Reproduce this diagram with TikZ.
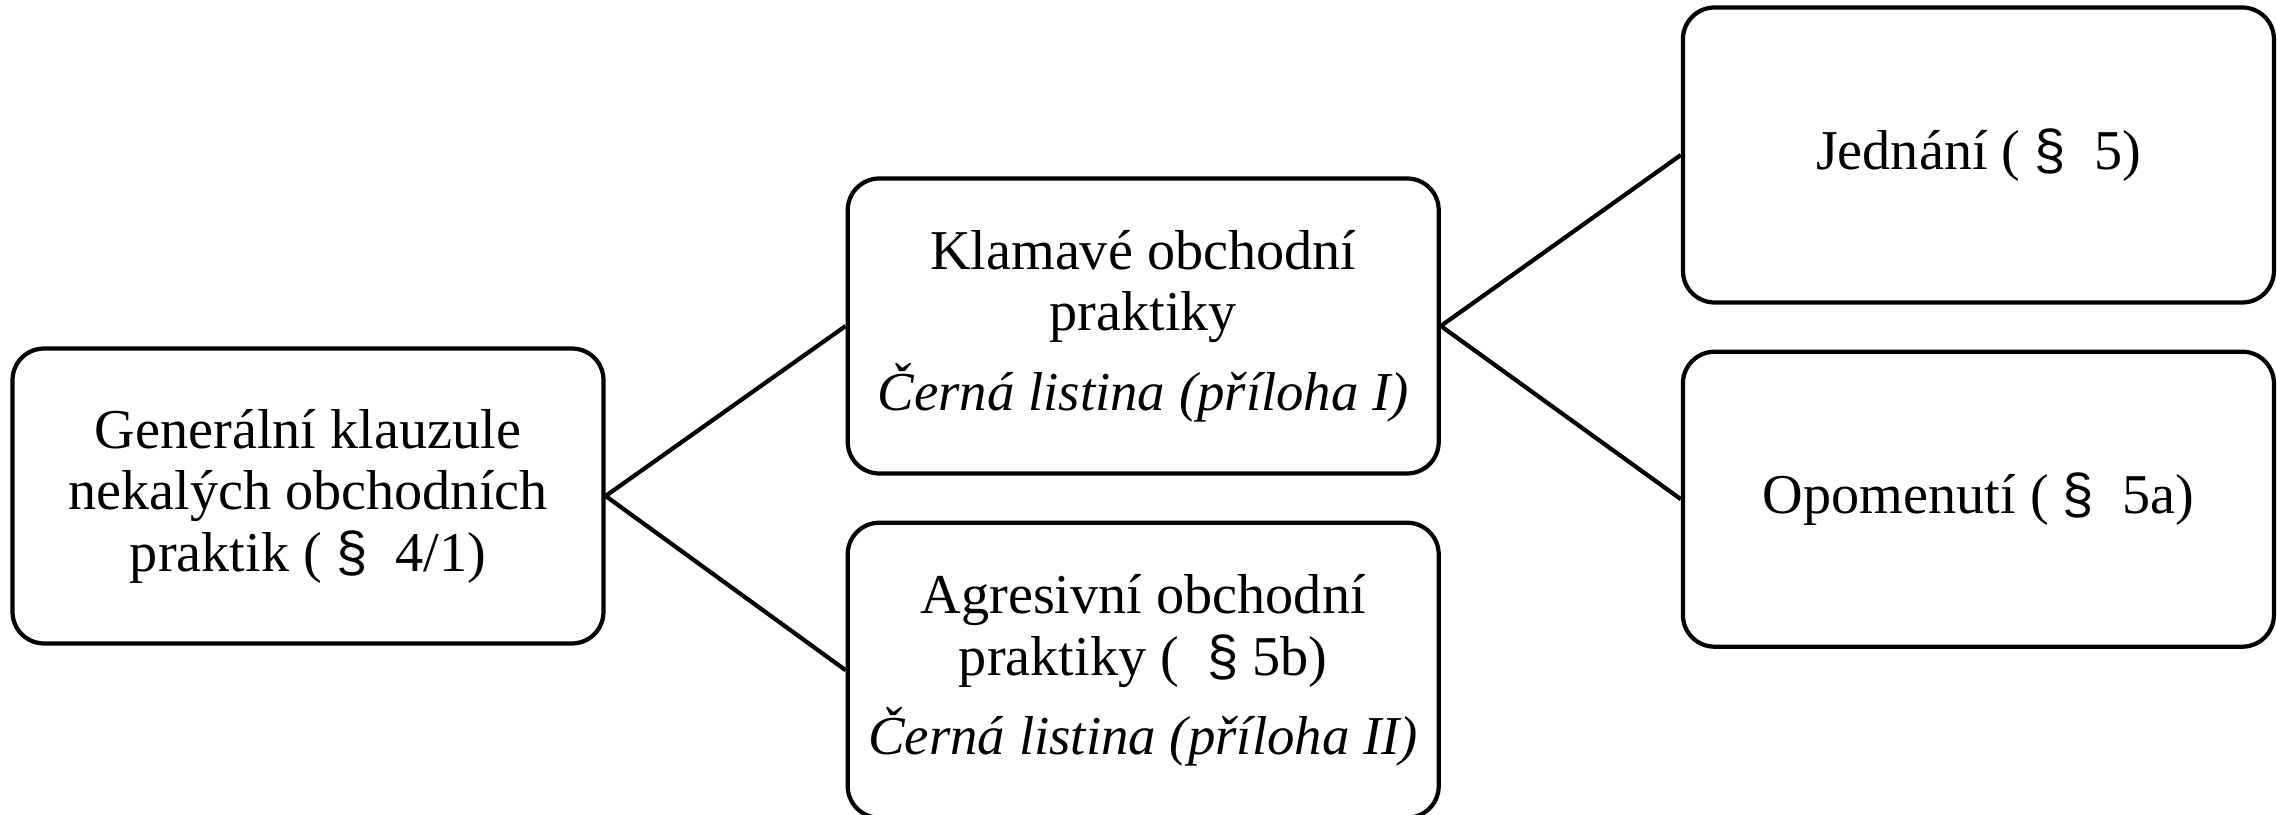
\documentclass[tikz,border=0pt]{standalone}
\usepackage{fontspec}
\setmainfont{Liberation Serif}
\newfontfamily\parafont{Liberation Sans}
\newcommand{\para}{{\parafont\S}}
\newcommand{\listina}[1]{{\fontsize{15.6}{17.5}\selectfont\itshape #1}}
\usetikzlibrary{positioning}

\begin{document}
\begin{tikzpicture}[
	box/.style={draw,line width=1.2pt,rounded corners=9pt,minimum width=5.91cm,minimum height=2.95cm,align=center,font=\fontsize{16}{17.5}\selectfont},
	link/.style={line width=1.2pt}]
	\useasboundingbox (0,0) rectangle (22.77,-8.15);

	\node[box] (gen) at (3.08,-4.96) {Generální klauzule\\nekalých obchodních\\praktik (~\para~~4/1)};
	\node[box,right=2.4cm of gen,yshift=1.7cm] (klam) {Klamavé obchodní\\praktiky\\[5pt]\listina{Černá listina (příloha I)}};
	\node[box,below=0.45cm of klam] (agr) {Agresivní obchodní\\praktiky (~~\para~5b)\\[5pt]\listina{Černá listina (příloha II)}};
	\node[box,right=2.4cm of klam,yshift=1.71cm] (jedn) {Jednání (~\para~~5)};
	\node[box,below=0.45cm of jedn] (opom) {Opomenutí (~\para~~5a)};

	\draw[link] (gen.east) -- (klam.west);
	\draw[link] (gen.east) -- (agr.west);
	\draw[link] (klam.east) -- (jedn.west);
	\draw[link] (klam.east) -- (opom.west);
\end{tikzpicture}
\end{document}
